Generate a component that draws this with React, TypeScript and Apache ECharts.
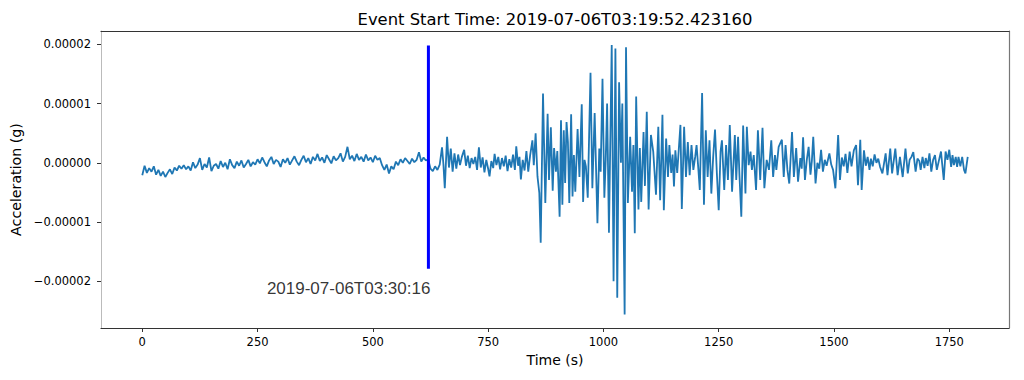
import React, { useEffect, useRef } from "react";
import * as echarts from "echarts";

const TITLE = "Event Start Time: 2019-07-06T03:19:52.423160";
const X_NAME = "Time (s)";
const Y_NAME = "Acceleration (g)";
const EVENT_LABEL = "2019-07-06T03:30:16";
const EVENT_TIME = 620.5; // s
const EVENT_LINE_TOP = 19.8; // µg
const EVENT_LINE_BOTTOM = -17.9; // µg
const EVENT_LABEL_Y = -21.3; // µg
const UG = 1e-6; // values below are in micro-g

const xTicks = [0, 250, 500, 750, 1000, 1250, 1500, 1750];
const yTicks = [-0.00002, -0.00001, 0, 0.00001, 0.00002];
const yTickLabels = ["\u22120.00002", "\u22120.00001", "0.00000", "0.00001", "0.00002"];

// pre-event quiet part, sampled every 5 s from t = 0 (µg)
const QUIET_STEP = 5;
const quietValues = [
  -2.1, -0.5, -1.7, -0.9, -1.5, -0.6, -2.0, -1.2, -2.2, -1.5, -2.4, -1.7,
  -1.1, -1.9, -0.8, -1.3, -0.5, -1.0, -0.4, -1.1,
  -0.6, -1.3, 0.1, -0.9, -0.3, 0.8, -1.2, -0.2, -0.8, 0.9, -1.4, -0.5,
  -0.2, -1.0, 0.3, -0.7, 0.0, -1.1, 0.6, -0.4, -0.9, 0.2, -0.5, 0.4, -0.8, -0.2, 0.5, -0.6, 0.1,
  -0.3, 0.6, -0.1, 0.9, 0.1, -0.6, 0.4, 1.0, -0.2, 0.5, 0.2, -0.7, 0.6, 0.0, 0.8, -0.3, 0.4, 1.1, 0.2, -0.4,
  0.5, 1.2, 0.1, 0.8, -0.2, 1.0, 0.4, 1.5, 0.3, 0.9, 0.0, 1.3, 0.6, -0.1, 1.1, 0.4, 0.8, 1.6, 0.2, 1.0, 2.7,
  0.6, 1.2, 0.3, 1.5, 0.5, 1.0, 0.2, 1.4, 0.4, 0.9, 0.1, 1.2, 0.5, 0.8,
  -0.4, -1.2, -0.3, -1.8, -0.6, -1.1,
  0.2, -0.4, 0.6, 0.0, 0.8, 0.3, -0.2, 0.7, 0.1, 0.5, 1.8, 0.2, 0.9, 0.4,
  0.6,
];

// event part: [time s, acceleration µg]
const eventSamples: [number, number][] = [
  [625, -1.0], [630, -1.4], [635, -0.6], [640, -1.2], [645, -0.3], [650, 2.6], [653, -0.2], [656, -4.3],
  [661, 4.4], [665, -0.8], [669, 2.4], [673, -1.5], [677, 1.6], [681, -1.0], [685, 1.4], [689, -0.4],
  [693, 1.0], [698, 2.2], [702, -0.5], [706, 1.2], [710, -0.9], [714, 0.8], [718, -0.2], [722, 1.0],
  [726, -1.2], [730, 2.6], [734, -0.8], [738, 0.9], [742, -1.6], [746, 0.5], [750, -1.0], [753, -2.3],
  [757, 0.3], [761, -0.9], [764, 1.5], [768, -0.4], [772, 1.0], [776, -1.1], [780, 0.8], [784, -0.6],
  [788, 1.2], [792, -1.4], [796, 0.6], [800, -0.8], [804, 1.4], [808, -1.2], [811, 2.8], [815, -0.5],
  [818, 1.0], [821, -2.8], [825, 0.5], [829, -1.3], [833, 2.0], [837, -1.5], [841, 1.2], [846, 3.8],
  [849, -0.4], [853, 5.0], [857, -2.3], [861, -5.1], [864, -13.5], [869, 11.7], [874, -6.8], [879, 8.3],
  [882, -2.9], [886, 6.0], [890, -4.7], [893, 2.5], [897, -1.5], [900, 2.0], [905, -9.1], [908, 7.2],
  [911, -7.1], [914, 5.5], [917, -3.4], [920, 6.9], [923, 3.5], [926, -6.8], [930, 8.2], [933, -5.7],
  [936, 1.3], [939, -4.9], [944, 5.7], [948, -2.4], [953, 9.9], [956, -6.6], [959, 0.5], [962, -0.6],
  [966, -5.9], [972, 15.2], [976, -4.3], [981, 8.4], [987, -10.2], [991, 2.4], [994, -1.5], [998, 14.2],
  [1002, -5.9], [1005, 0.5], [1008, 10.0], [1012, -11.8], [1018, 19.9], [1022, -20.0], [1026, 19.3], [1030, -22.8],
  [1034, 13.6], [1038, 0.0], [1041, 10.0], [1046, -25.6], [1049, 19.5], [1053, -6.8], [1058, 4.4], [1062, -4.9],
  [1065, 3.0], [1068, -11.9], [1071, 11.2], [1076, -7.9], [1079, 2.5], [1082, -6.6], [1087, 5.2], [1090, -3.9],
  [1094, 8.6], [1098, -7.9], [1103, 4.7], [1108, 1.9], [1114, -5.4], [1119, 6.1], [1123, -6.3], [1128, 8.1],
  [1131, -8.0], [1136, 4.1], [1140, -2.4], [1143, 3.0], [1147, -1.7], [1150, 1.4], [1153, -4.0], [1156, 2.1],
  [1160, -1.7], [1167, 6.4], [1170, -7.8], [1175, 6.1], [1179, -2.4], [1183, 3.5], [1187, -2.1], [1191, 3.0],
  [1195, -1.2], [1199, 1.0], [1202, 3.0], [1206, -1.2], [1209, -4.6], [1214, 11.8], [1218, -7.1], [1222, 5.5],
  [1226, -2.4], [1230, 3.8], [1234, -5.2], [1238, 1.0], [1242, 5.6], [1246, -1.8], [1250, -8.0], [1254, 1.9],
  [1257, 3.8], [1262, -4.6], [1266, 3.0], [1270, -2.9], [1274, 6.4], [1279, -4.9], [1285, 4.7], [1288, -2.9],
  [1292, 4.4], [1295, -2.1], [1299, -9.1], [1303, 6.3], [1308, -5.2], [1311, 6.1], [1315, -0.4], [1319, 1.9],
  [1322, -1.2], [1326, 1.3], [1331, -4.6], [1335, 5.5], [1340, -2.9], [1345, 5.9], [1349, -4.3], [1354, 0.5],
  [1359, -1.2], [1364, 3.8], [1368, -2.4], [1372, 1.3], [1375, -1.2], [1380, 2.7], [1387, 3.9], [1391, -2.4],
  [1395, 3.0], [1399, -1.2], [1403, -3.5], [1409, 5.2], [1413, -2.4], [1418, 2.5], [1422, -3.2], [1427, 0.8],
  [1430, -1.0], [1433, 4.3], [1437, -2.9], [1441, 0.5], [1445, 2.7], [1449, -2.0], [1452, 0.3], [1455, 4.4],
  [1460, -3.5], [1464, 0.0], [1468, -1.0], [1472, 2.2], [1476, -1.5], [1480, 0.5], [1484, -0.5], [1490, 1.6],
  [1494, -0.3], [1498, -1.2], [1503, -4.3], [1509, 4.7], [1513, -2.9], [1517, 0.9], [1521, -0.6], [1525, 1.5],
  [1529, -1.7], [1534, 1.9], [1538, -0.6], [1543, 2.1], [1548, 3.0], [1552, -3.8], [1557, 3.9], [1560, -4.6],
  [1565, 2.1], [1569, -0.5], [1573, 1.0], [1577, -1.2], [1580, 0.7], [1584, -0.6], [1588, 1.4], [1592, 0.0],
  [1596, 0.7], [1600, -0.7], [1605, -1.8], [1612, 1.6], [1616, -2.1], [1622, 2.4], [1626, -1.8], [1633, 2.4],
  [1638, -2.1], [1643, 1.0], [1649, -2.4], [1655, 2.4], [1660, -1.8], [1664, 0.5], [1668, 1.0], [1672, 1.8],
  [1677, -1.5], [1681, 0.7], [1685, 0.3], [1688, -1.2], [1692, 1.0], [1696, -0.9], [1699, 0.8], [1703, -0.5],
  [1707, 1.6], [1711, -1.5], [1715, 0.5], [1719, 1.3], [1723, -1.2], [1727, 0.2], [1732, 1.9], [1738, -2.9],
  [1742, 1.9], [1746, 0.5], [1750, 2.2], [1754, -0.7], [1757, 1.3], [1760, -0.4], [1764, 1.0], [1767, -0.7],
  [1770, 1.0], [1774, -0.6], [1778, 1.0], [1782, -1.2], [1785, -1.8], [1790, 1.0],
];

const X_MIN = -89.5;
const X_MAX = 1879.5;
const Y_MIN = -27.9e-6;
const Y_MAX = 22.26e-6;

const MPL_FONT = "DejaVu Sans";

export default function App() {
  const ref = useRef<HTMLDivElement>(null);

  useEffect(() => {
    if (!ref.current) return;
    const chart = echarts.init(ref.current, undefined, { renderer: "svg" });

    const trace: [number, number][] = [
      ...quietValues.map((v, i) => [i * QUIET_STEP, v * UG] as [number, number]),
      ...eventSamples.map(([t, v]) => [t, v * UG] as [number, number]),
    ];

    const tickLabelStyle = { color: "#000", fontFamily: MPL_FONT, fontSize: 11.5 };

    chart.setOption({
      animation: false,
      backgroundColor: "#fff",
      grid: { left: 101, right: 15, top: 31, bottom: 52, containLabel: false, show: false },
      graphic: [
        {
          type: "text",
          x: 555,
          y: 19,
          style: {
            text: TITLE,
            align: "center",
            verticalAlign: "middle",
            font: `16.4px "${MPL_FONT}"`,
            fill: "#000",
          },
        },
      ],
      xAxis: [
        {
          type: "value",
          min: X_MIN,
          max: X_MAX,
          position: "bottom",
          name: X_NAME,
          nameLocation: "middle",
          nameGap: 22,
          nameTextStyle: { color: "#000", fontFamily: MPL_FONT, fontSize: 14 },
          axisLine: { show: true, onZero: false, lineStyle: { color: "#333", width: 1.2 } },
          axisTick: { show: true, length: 4, inside: false, customValues: xTicks, lineStyle: { color: "#333" } },
          axisLabel: { ...tickLabelStyle, margin: 8, customValues: xTicks, formatter: (v: number) => String(v) },
          splitLine: { show: false },
        },
        {
          type: "value",
          min: X_MIN,
          max: X_MAX,
          position: "top",
          axisLine: { show: true, onZero: false, lineStyle: { color: "#333", width: 1.2 } },
          axisTick: { show: false },
          axisLabel: { show: false },
          splitLine: { show: false },
        },
      ],
      yAxis: [
        {
          type: "value",
          min: Y_MIN,
          max: Y_MAX,
          position: "left",
          name: Y_NAME,
          nameLocation: "middle",
          nameGap: 69,
          nameTextStyle: { color: "#000", fontFamily: MPL_FONT, fontSize: 14.2 },
          axisLine: { show: true, onZero: false, lineStyle: { color: "#bbb", width: 1 } },
          axisTick: { show: true, length: 4, inside: false, customValues: yTicks, lineStyle: { color: "#333" } },
          axisLabel: {
            ...tickLabelStyle,
            margin: 10,
            customValues: yTicks,
            formatter: (v: number) => {
              const i = yTicks.findIndex((t) => Math.abs(t - v) < 1e-12);
              return i >= 0 ? yTickLabels[i] : "";
            },
          },
          splitLine: { show: false },
        },
        {
          type: "value",
          min: Y_MIN,
          max: Y_MAX,
          position: "right",
          axisLine: { show: true, onZero: false, lineStyle: { color: "#777", width: 1.2 } },
          axisTick: { show: false },
          axisLabel: { show: false },
          splitLine: { show: false },
        },
      ],
      series: [
        {
          name: "trace",
          type: "line",
          xAxisIndex: 0,
          yAxisIndex: 0,
          data: trace,
          showSymbol: false,
          symbol: "none",
          lineStyle: { color: "#1f77b4", width: 1.8 },
          silent: true,
        },
        {
          name: "event",
          type: "line",
          xAxisIndex: 0,
          yAxisIndex: 0,
          data: [
            [EVENT_TIME, EVENT_LINE_TOP * UG],
            [EVENT_TIME, EVENT_LINE_BOTTOM * UG],
          ],
          showSymbol: false,
          symbol: "none",
          lineStyle: { color: "#0000ff", width: 3 },
          silent: true,
        },
        {
          name: "eventLabel",
          type: "scatter",
          xAxisIndex: 0,
          yAxisIndex: 0,
          data: [[EVENT_TIME, EVENT_LABEL_Y * UG]],
          symbolSize: 0,
          silent: true,
          label: {
            show: true,
            position: "left",
            distance: -2,
            formatter: EVENT_LABEL,
            color: "#000",
            fontFamily: "Liberation Sans",
            fontSize: 17,
          },
        },
      ],
    });

    return () => chart.dispose();
  }, []);

  return (
    <div
      ref={ref}
      style={{ position: "fixed", left: 0, top: 0, width: 1024, height: 380, background: "#fff" }}
    />
  );
}
